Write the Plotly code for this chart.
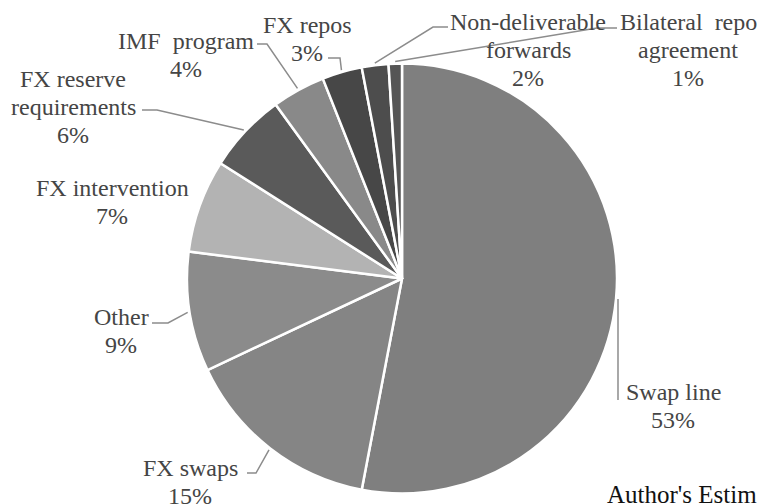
import math
import plotly.graph_objects as go

# ---- data ----
labels = ["Swap line", "FX swaps", "Other", "FX intervention",
          "FX reserve requirements", "IMF program", "FX repos",
          "Non-deliverable forwards", "Bilateral repo agreement"]
values = [53, 15, 9, 7, 6, 4, 3, 2, 1]
label_lines = [["Swap line"], ["FX swaps"], ["Other"], ["FX intervention"],
               ["FX reserve", "requirements"], ["IMF  program"], ["FX repos"],
               ["Non-deliverable", "forwards"], ["Bilateral  repo", "agreement"]]
colors = ["#7f7f7f", "#858585", "#8b8b8b", "#b3b3b3", "#5a5a5a",
          "#898989", "#474747", "#4d4d4d", "#555555"]
source_note = "Author's Estimates"

# ---- layout constants (pixels) ----
W, H = 757, 504
CX, CY, R = 402, 278.5, 215
FONT = "Liberation Serif, Times New Roman, serif"


def px(x):
    return x / W


def py(y):
    return 1 - y / H


# label centre x and first-line centre y, line step
label_pos = {
    "Swap line": (673, 392),
    "FX swaps": (190, 468),
    "Other": (121, 317),
    "FX intervention": (112, 188),
    "FX reserve requirements": (73, 79),
    "IMF program": (186, 41),
    "FX repos": (307, 25),
    "Non-deliverable forwards": (528, 22),
    "Bilateral repo agreement": (688, 22),
}
LINE_STEP = 28
elbows = {
    "Swap line": [(618, 400)],
    "FX swaps": [(256, 473), (247, 473)],
    "Other": [(168, 323), (152, 323)],
    "FX intervention": None,
    "FX reserve requirements": [(157, 110), (142, 110)],
    "IMF program": [(267, 44), (257, 44)],
    "FX repos": [(340, 58), (328, 58)],
    "Non-deliverable forwards": [(433, 27), (448, 27)],
    "Bilateral repo agreement": [(597, 28), (617, 28)],
}

fig = go.Figure(go.Pie(
    labels=labels, values=values, sort=False, direction="clockwise",
    rotation=0, textinfo="none", hoverinfo="label+percent",
    marker=dict(colors=colors, line=dict(color="white", width=2.5)),
    domain=dict(x=[px(CX - R), px(CX + R)], y=[py(CY + R), py(CY - R)]),
    showlegend=False,
))

total = sum(values)
cum = 0
shapes = []
annotations = []
for lab, lines, v in zip(labels, label_lines, values):
    mid = (cum + v / 2) / total * 2 * math.pi
    cum += v
    sx = CX + (R + 2) * math.sin(mid)
    sy = CY - (R + 2) * math.cos(mid)
    el = elbows[lab]
    if el:
        if lab == "Swap line":
            pts = [(el[0][0], sy), el[0]]
        else:
            pts = [(sx, sy)] + el
        path = "M " + " L ".join(f"{px(a):.5f},{py(b):.5f}" for a, b in pts)
        shapes.append(dict(type="path", xref="paper", yref="paper", path=path,
                           line=dict(color="#8c8c8c", width=1.5)))
    x, y0 = label_pos[lab]
    pct = round(v / total * 100)
    for i, t in enumerate(lines + [f"{pct}%"]):
        annotations.append(dict(
            x=px(x), y=py(y0 + i * LINE_STEP), xref="paper", yref="paper",
            text=t, showarrow=False, xanchor="center", yanchor="middle",
            font=dict(family=FONT, size=24, color="#454545"),
        ))

annotations.append(dict(
    x=px(605), y=py(494), xref="paper", yref="paper",
    text=source_note, showarrow=False, xanchor="left", yanchor="middle",
    font=dict(family=FONT, size=25, color="#111111"),
))

fig.update_layout(
    width=W, height=H, margin=dict(l=0, r=0, t=0, b=0),
    paper_bgcolor="white", plot_bgcolor="white",
    shapes=shapes, annotations=annotations,
)
fig.write_html("out.html", config={"displayModeBar": False},
               post_script="document.body.style.margin='0';"
                           "document.body.style.overflow='hidden';")
